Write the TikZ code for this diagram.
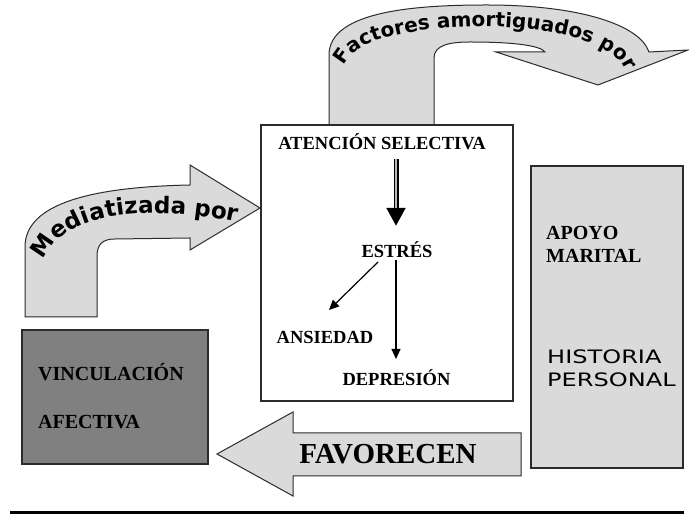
\documentclass[tikz,border=0pt]{standalone}
\usepackage{fontspec}
\setmainfont{Liberation Serif}
\newfontfamily\wordart{DejaVu Sans}
\newfontfamily\handfont{DejaVu Sans}[FakeStretch=1.3]
\usetikzlibrary{arrows.meta,decorations.text}
\definecolor{lightg}{HTML}{DADADA}
\definecolor{darkg}{HTML}{808080}
\definecolor{edgec}{HTML}{2B2B2B}
\tikzset{
  bigar/.style={draw=edgec,line width=1pt,fill=lightg,line join=miter},
  box/.style={draw=edgec,line width=1.3pt,inner sep=0pt},
  lbl/.style={font=\bfseries\fontsize{18.5}{22}\selectfont,inner sep=0pt},
  ar/.style={-{Triangle[length=10pt,width=9pt]},line width=1.2pt},
  dbl/.style={line width=5pt,-{Triangle[length=18pt,width=18pt]},
    postaction={draw,gray!55,line width=2pt,-,shorten >=18pt}}
}

\begin{document}
\begin{tikzpicture}[x=1pt,y=1pt]
\useasboundingbox (0,0) rectangle (689,514);
% curved arrow on top
\draw[bigar] (329,389) -- (329,459) .. controls (329,504) and (420,509) .. (487,509)
  .. controls (580,509) and (640,489) .. (649,462) -- (688,464) -- (598,429) -- (496,462)
  -- (545,462) .. controls (540,469) and (510,472) .. (470,472)
  .. controls (450,472) and (434,469) .. (434,456) -- (434,389) -- cycle;
\path[decorate,decoration={text along path,text align={fit to path},
  text={|\wordart\bfseries\fontsize{20}{20}\selectfont|Factores amortiguados por}}]
  (344,448) .. controls (361,501) and (600,501) .. (625,445);
% curved arrow on the left
\draw[bigar] (25,197) -- (25,267) .. controls (25,310) and (90,327) .. (190,329)
  -- (190,349) -- (260,306) -- (190,264) -- (190,276) -- (115,275)
  .. controls (103,275) and (97,270) .. (97,258) -- (97,197) -- cycle;
\path[decorate,decoration={text along path,text align={fit to path},
  text={|\wordart\bfseries\fontsize{23}{23}\selectfont|Mediatizada por}}]
  (44,254) .. controls (63,302) and (150,310) .. (236,292);
% boxes
\node[box,fill=white,minimum width=252pt,minimum height=276pt] (centro) at (387,251) {};
\node[box,fill=darkg,minimum width=186pt,minimum height=134pt] (vinculo) at (115,117) {};
\node[box,fill=lightg,minimum width=152pt,minimum height=302pt] (apoyo) at (607,197) {};
% arrow at the bottom
\draw[bigar] (217,60) -- (293,102) -- (293,81) -- (521,81) -- (521,38) -- (293,38) -- (293,18) -- cycle;
\node[inner sep=0pt,anchor=base,font=\bfseries\fontsize{29}{32}\selectfont] (favor) at (388,50.4) {FAVORECEN};
% texts
\node[lbl,anchor=base] (atencion) at (382,364) {ATENCIÓN SELECTIVA};
\node[lbl,anchor=base] (estres) at (397,256) {ESTRÉS};
\node[lbl,anchor=base] (ansiedad) at (325,170) {ANSIEDAD};
\node[lbl,anchor=base] (depresion) at (396.5,128) {DEPRESIÓN};
\node[lbl,anchor=base west,font=\bfseries\fontsize{20}{22}\selectfont] (vinc) at (38,133.4) {VINCULACIÓN};
\node[lbl,anchor=base west,font=\bfseries\fontsize{20}{22}\selectfont] (afec) at (38,85.4) {AFECTIVA};
\node[lbl,anchor=base west,font=\bfseries\fontsize{20}{22}\selectfont] (apoyotxt) at (546,274.4) {APOYO};
\node[lbl,anchor=base west,font=\bfseries\fontsize{20}{22}\selectfont] (marital) at (546,251.4) {MARITAL};
\node[lbl,anchor=base west,font=\handfont\fontsize{18.5}{20}\selectfont] (historia) at (547,150.5) {HISTORIA};
\node[lbl,anchor=base west,font=\handfont\fontsize{18.5}{20}\selectfont] (personal) at (547,127.5) {PERSONAL};
% links inside the box
\draw[dbl] ([shift={(14,-9)}]atencion.base) -- ([shift={(-1,32)}]estres.base);
\draw[ar] ([shift={(-19,-4)}]estres.base) -- ([shift={(4,34)}]ansiedad.base);
\draw[ar] ([shift={(-1,-2)}]estres.base) -- ([shift={(-0.5,27)}]depresion.base);
% rule at the bottom
\draw[line width=3pt] (10,1.8) -- (684,1.8);
\end{tikzpicture}
\end{document}
